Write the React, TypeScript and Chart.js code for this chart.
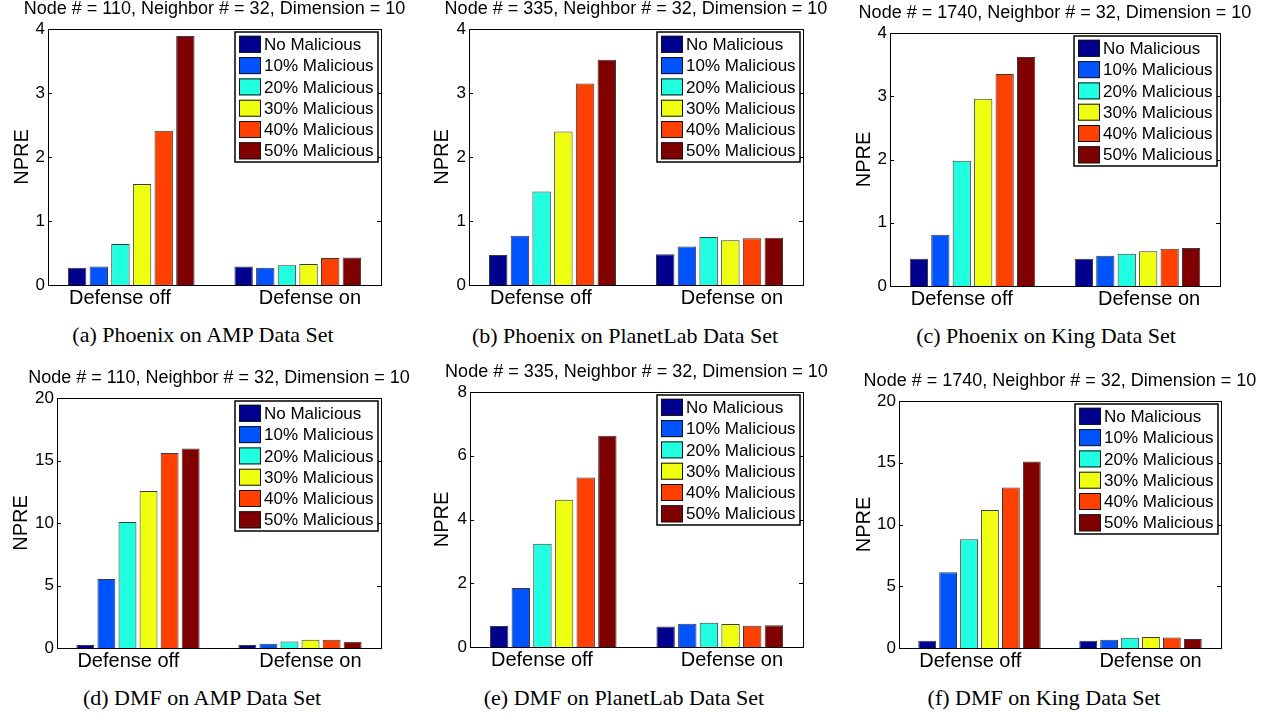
import React, { useEffect, useRef } from "react";
import { Chart, registerables } from "chart.js";

Chart.register(...registerables);

// ---------- data ----------
const categories = ["Defense off", "Defense on"];
const seriesNames = [
  "No Malicious",
  "10% Malicious",
  "20% Malicious",
  "30% Malicious",
  "40% Malicious",
  "50% Malicious",
];

const phoenixAmpOff = [0.27, 0.29, 0.64, 1.58, 2.41, 3.89];
const phoenixAmpOn = [0.29, 0.27, 0.31, 0.33, 0.42, 0.43];
const phoenixPlanetLabOff = [0.47, 0.77, 1.46, 2.4, 3.15, 3.52];
const phoenixPlanetLabOn = [0.48, 0.6, 0.75, 0.7, 0.73, 0.74];
const phoenixKingOff = [0.43, 0.81, 1.98, 2.96, 3.35, 3.62];
const phoenixKingOn = [0.43, 0.48, 0.51, 0.55, 0.59, 0.6];
const dmfAmpOff = [0.24, 5.53, 10.08, 12.57, 15.6, 15.96];
const dmfAmpOn = [0.24, 0.35, 0.53, 0.67, 0.67, 0.51];
const dmfPlanetLabOff = [0.66, 1.85, 3.24, 4.62, 5.32, 6.63];
const dmfPlanetLabOn = [0.64, 0.73, 0.76, 0.72, 0.67, 0.68];
const dmfKingOff = [0.59, 6.14, 8.8, 11.17, 13.0, 15.1];
const dmfKingOn = [0.59, 0.67, 0.83, 0.89, 0.86, 0.73];

const panelTitles = [
  "Node # = 110, Neighbor # = 32, Dimension = 10",
  "Node # = 335, Neighbor # = 32, Dimension = 10",
  "Node # = 1740, Neighbor # = 32, Dimension = 10",
  "Node # = 110, Neighbor # = 32, Dimension = 10",
  "Node # = 335, Neighbor # = 32, Dimension = 10",
  "Node # = 1740, Neighbor # = 32, Dimension = 10",
];
const panelCaptions = [
  "(a) Phoenix on AMP Data Set",
  "(b) Phoenix on PlanetLab Data Set",
  "(c) Phoenix on King Data Set",
  "(d) DMF on AMP Data Set",
  "(e) DMF on PlanetLab Data Set",
  "(f) DMF on King Data Set",
];
const yMaxes = [4, 4, 4, 20, 8, 20];
const ySteps = [1, 1, 1, 5, 2, 5];
const yAxisTitle = "NPRE";

const panelOff = [phoenixAmpOff, phoenixPlanetLabOff, phoenixKingOff, dmfAmpOff, dmfPlanetLabOff, dmfKingOff];
const panelOn = [phoenixAmpOn, phoenixPlanetLabOn, phoenixKingOn, dmfAmpOn, dmfPlanetLabOn, dmfKingOn];

// ---------- styles / layout ----------
const seriesColors = [
  "rgb(0,0,143)",
  "rgb(0,84,255)",
  "rgb(32,255,223)",
  "rgb(239,255,16)",
  "rgb(255,64,0)",
  "rgb(128,0,0)",
];

const SANS = '"Liberation Sans", Arial, sans-serif';
const SERIF = '"Liberation Serif", "Times New Roman", serif';

const layouts = [
  { cx: 0, cy: 0, cw: 420, ch: 312, l: 48, t: 29, r: 381, b: 285, npre: 22, capX: 203, capY: 335 },
  { cx: 420, cy: 0, cw: 420, ch: 312, l: 469, t: 29, r: 803, b: 285, npre: 442, capX: 625, capY: 336 },
  { cx: 840, cy: 0, cw: 425, ch: 312, l: 890, t: 33, r: 1220, b: 286, npre: 864, capX: 1046, capY: 336 },
  { cx: 0, cy: 360, cw: 420, ch: 312, l: 57, t: 398, r: 381, b: 648, npre: 21, capX: 202, capY: 698 },
  { cx: 420, cy: 360, cw: 420, ch: 312, l: 470, t: 392, r: 803, b: 647, npre: 442, capX: 624, capY: 698 },
  { cx: 840, cy: 360, cw: 425, ch: 312, l: 899, t: 401, r: 1221, b: 648, npre: 864, capX: 1044, capY: 698 },
];

const framePlugin = {
  id: "frame",
  afterDraw(chart: any, _args: any, opts: any) {
    const { ctx, chartArea: a } = chart;
    ctx.save();
    // axes box
    ctx.strokeStyle = "#000";
    ctx.lineWidth = 1;
    ctx.strokeRect(a.left + 0.5, a.top + 0.5, a.right - a.left, a.bottom - a.top);
    // inward ticks
    const ys = chart.scales.y;
    ys.ticks.forEach((t: any) => {
      const py = Math.round(ys.getPixelForValue(t.value)) + 0.5;
      ctx.beginPath();
      ctx.moveTo(a.left, py);
      ctx.lineTo(a.left + 4, py);
      ctx.moveTo(a.right, py);
      ctx.lineTo(a.right - 4, py);
      ctx.stroke();
    });
    // title
    ctx.fillStyle = "#000";
    ctx.font = `18px ${SANS}`;
    ctx.textAlign = "center";
    ctx.textBaseline = "middle";
    ctx.fillText(opts.title, (a.left + a.right) / 2, a.top - 19.5);
    // category labels
    const n = chart.data.datasets.length;
    const m0 = chart.getDatasetMeta(0);
    const m1 = chart.getDatasetMeta(n - 1);
    ctx.font = `20px ${SANS}`;
    const labels = chart.data.labels as string[];
    labels.forEach((lab, i) => {
      const e0 = m0.data[i] as any;
      const e1 = m1.data[i] as any;
      const gl = e0.x - e0.width / 2;
      const gr = e1.x + e1.width / 2;
      if (i === 0) {
        ctx.textAlign = "left";
        ctx.fillText(lab, gl + 1, a.bottom + 13);
      } else if (i === labels.length - 1) {
        ctx.textAlign = "right";
        ctx.fillText(lab, gr, a.bottom + 13);
      } else {
        ctx.textAlign = "center";
        ctx.fillText(lab, (gl + gr) / 2, a.bottom + 13);
      }
    });
    // legend
    ctx.font = `17px ${SANS}`;
    let maxW = 0;
    chart.data.datasets.forEach((ds: any) => {
      maxW = Math.max(maxW, ctx.measureText(ds.label).width);
    });
    const bw = Math.round(29 + maxW + 4);
    const bh = 130;
    const bx = a.right - 3 - bw;
    const by = a.top + 3;
    ctx.fillStyle = "#fff";
    ctx.fillRect(bx, by, bw, bh);
    ctx.strokeStyle = "#000";
    ctx.lineWidth = 1.5;
    ctx.strokeRect(bx, by, bw, bh);
    chart.data.datasets.forEach((ds: any, i: number) => {
      const cyy = by + 12.3 + i * 21.3;
      ctx.fillStyle = ds.backgroundColor;
      ctx.fillRect(bx + 4, cyy - 8.5, 22, 17);
      ctx.strokeStyle = "#111";
      ctx.lineWidth = 1;
      ctx.strokeRect(bx + 4.5, cyy - 8, 21, 16);
      ctx.fillStyle = "#000";
      ctx.textAlign = "left";
      ctx.textBaseline = "middle";
      ctx.fillText(ds.label, bx + 29, cyy + 1);
    });
    ctx.restore();
  },
};

function Panel({ idx }: { idx: number }) {
  const ref = useRef<HTMLCanvasElement>(null);
  const L = layouts[idx];
  useEffect(() => {
    const off = panelOff[idx];
    const on = panelOn[idx];
    const chart = new Chart(ref.current as HTMLCanvasElement, {
      type: "bar",
      data: {
        labels: categories,
        datasets: seriesNames.map((name, i) => ({
          label: name,
          data: [off[i], on[i]],
          backgroundColor: seriesColors[i],
          borderColor: "#3a3a3a",
          borderWidth: 1,
          categoryPercentage: 0.78,
          barPercentage: 0.85,
        })),
      },
      options: {
        responsive: false,
        animation: false,
        devicePixelRatio: 1,
        layout: {
          padding: { top: L.t - L.cy, right: L.cx + L.cw - L.r, left: 0, bottom: 0 },
        },
        plugins: {
          legend: { display: false },
          tooltip: { enabled: false },
          title: { display: false },
          frame: { title: panelTitles[idx] },
        } as any,
        scales: {
          x: {
            type: "category",
            offset: true,
            ticks: { display: false },
            grid: { display: false, drawTicks: false },
            border: { display: false },
            afterFit: (s: any) => {
              s.height = L.cy + L.ch - L.b;
            },
          },
          y: {
            min: 0,
            max: yMaxes[idx],
            ticks: {
              stepSize: ySteps[idx],
              color: "#000",
              font: { family: SANS, size: 17 },
              padding: 3,
            },
            grid: { display: false, drawTicks: false },
            border: { display: false },
            title: {
              display: true,
              text: yAxisTitle,
              color: "#000",
              font: { family: SANS, size: 20 },
              padding: { top: L.npre - L.cx - 12, bottom: 0 },
            },
            afterFit: (s: any) => {
              s.width = L.l - L.cx;
            },
          },
        },
      },
      plugins: [framePlugin],
    } as any);
    return () => chart.destroy();
  }, [idx]);
  return (
    <>
      <canvas
        ref={ref}
        width={L.cw}
        height={L.ch}
        style={{ position: "absolute", left: L.cx, top: L.cy, width: L.cw, height: L.ch }}
      />
      <div
        style={{
          position: "absolute",
          left: L.capX - 200,
          top: L.capY - 13,
          width: 400,
          height: 26,
          lineHeight: "26px",
          textAlign: "center",
          fontFamily: SERIF,
          fontSize: 22,
          color: "#000",
          whiteSpace: "nowrap",
        }}
      >
        {panelCaptions[idx]}
      </div>
    </>
  );
}

export default function App() {
  return (
    <div
      style={{
        position: "absolute",
        left: 0,
        top: 0,
        width: 1265,
        height: 715,
        background: "#fff",
        overflow: "hidden",
      }}
    >
      {[0, 1, 2, 3, 4, 5].map((i) => (
        <Panel key={i} idx={i} />
      ))}
    </div>
  );
}
